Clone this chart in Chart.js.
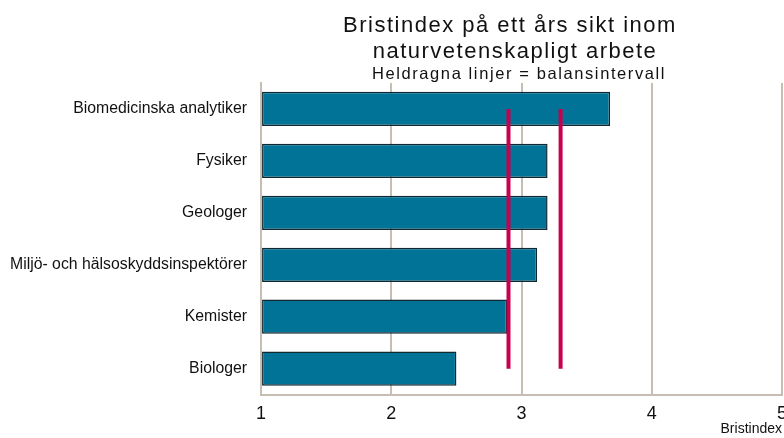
<!DOCTYPE html>
<html lang="sv">
<head>
   <meta charset="UTF-8">
   <title>Bristindex</title>
   <script src="https://cdn.jsdelivr.net/npm/chart.js"></script>
   <style>
      html, body { margin: 0; padding: 0; background: #fff; }
      #wrap { width: 784px; height: 438px; }
   </style>
</head>
<body>
   <div id="wrap"><canvas id="chart"></canvas></div>

   <script>
    // Data
    const categories = [
        "Biomedicinska analytiker",
        "Fysiker",
        "Geologer",
        "Miljö- och hälsoskyddsinspektörer",
        "Kemister",
        "Biologer"
    ];
    const bristindex = [3.68, 3.2, 3.2, 3.12, 2.89, 2.5];
    const balansLow = [2.9, 2.9, 2.9, 2.9, 2.9, 2.9];
    const balansHigh = [3.3, 3.3, 3.3, 3.3, 3.3, 3.3];
    const xTicks = [1, 2, 3, 4, 5];

    const titleLines = [
        { text: "Bristindex på ett års sikt inom", size: 22, spacing: 1.5, x: 510, y: 32 },
        { text: "naturvetenskapligt arbete", size: 22, spacing: 1.5, x: 515, y: 58 },
        { text: "Heldragna linjer = balansintervall", size: 16.5, spacing: 1.6, x: 519, y: 79 }
    ];

    const FONT = "'Liberation Sans', Arial, sans-serif";

    // draws the three title lines
    const titlePlugin = {
        id: "titleLines",
        afterDraw(chart) {
            const ctx = chart.ctx;
            ctx.save();
            ctx.fillStyle = "#111";
            ctx.textAlign = "center";
            ctx.textBaseline = "alphabetic";
            titleLines.forEach(l => {
                ctx.font = l.size + "px " + FONT;
                ctx.letterSpacing = l.spacing + "px";
                ctx.fillText(l.text, l.x, l.y);
            });
            ctx.restore();
        }
    };

    const ctx = document.getElementById("chart").getContext("2d");
    new Chart(ctx, {
        data: {
            labels: categories,
            datasets: [
                {
                    type: "line",
                    label: "Balans låg",
                    indexAxis: "y",
                    data: balansLow,
                    borderColor: "#c8004e",
                    borderWidth: 4,
                    borderCapStyle: "butt",
                    pointRadius: 0,
                    order: 0
                },
                {
                    type: "line",
                    label: "Balans hög",
                    indexAxis: "y",
                    data: balansHigh,
                    borderColor: "#c8004e",
                    borderWidth: 4,
                    borderCapStyle: "butt",
                    pointRadius: 0,
                    order: 0
                },
                {
                    type: "bar",
                    label: "Bristindex",
                    indexAxis: "y",
                    data: bristindex,
                    base: 1,
                    backgroundColor: "#007397",
                    borderColor: "#102832",
                    borderWidth: 1.5,
                    borderSkipped: false,
                    barPercentage: 0.66,
                    categoryPercentage: 1,
                    order: 1
                }
            ]
        },
        options: {
            indexAxis: "y",
            responsive: true,
            maintainAspectRatio: false,
            animation: false,
            layout: { padding: { top: 83, right: 2, bottom: 0, left: -4 } },
            plugins: {
                legend: { display: false },
                tooltip: { enabled: false }
            },
            scales: {
                x: {
                    type: "linear",
                    min: 1,
                    max: 5,
                    afterBuildTicks: axis => { axis.ticks = xTicks.map(v => ({ value: v })); },
                    afterFit: axis => { axis.paddingRight = 0; axis.paddingLeft = 0; },
                    grid: { color: "#c6beb2", lineWidth: 2, drawTicks: false },
                    border: { color: "#c6beb2", width: 2 },
                    ticks: {
                        color: "#111",
                        padding: 9,
                        font: { family: FONT, size: 18 }
                    },
                    title: {
                        display: true,
                        text: "Bristindex",
                        align: "end",
                        color: "#111",
                        padding: { top: -13, bottom: 0 },
                        font: { family: FONT, size: 14 }
                    }
                },
                y: {
                    grid: { display: false, drawTicks: false },
                    border: { color: "#c6beb2", width: 2 },
                    ticks: {
                        color: "#111",
                        padding: 14,
                        font: { family: FONT, size: 15.8 }
                    }
                }
            }
        },
        plugins: [titlePlugin]
    });
</script>
</body>
</html>
